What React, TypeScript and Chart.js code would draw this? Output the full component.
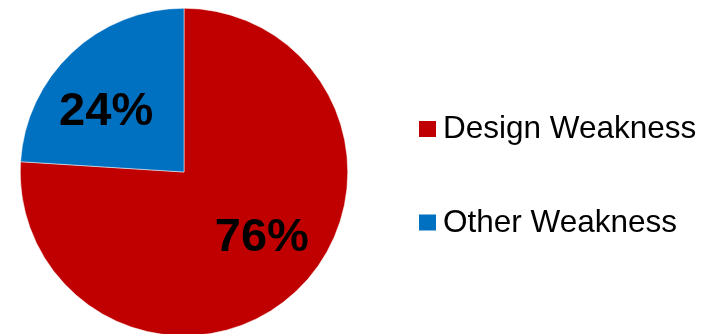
import React, { useEffect, useRef } from "react";
import { Chart, registerables } from "chart.js";

Chart.register(...registerables);

const categories = ["Design Weakness", "Other Weakness"];
const values = [76, 24];
const colors = ["#C00000", "#0070C0"];

const labelPlugin = {
  id: "sliceLabels",
  afterDatasetsDraw(chart: any) {
    const ctx = chart.ctx;
    const meta = chart.getDatasetMeta(0);
    const total = values.reduce((a, b) => a + b, 0);
    ctx.save();
    ctx.fillStyle = "#000";
    ctx.font = "bold 47px 'Liberation Sans', Arial, sans-serif";
    ctx.textAlign = "center";
    ctx.textBaseline = "middle";
    meta.data.forEach((arc: any, i: number) => {
      const p = arc.getProps(["x", "y", "startAngle", "endAngle", "outerRadius"], true);
      const mid = (p.startAngle + p.endAngle) / 2 - (8 * Math.PI) / 180;
      const r = p.outerRadius * 0.61;
      const x = p.x + Math.cos(mid) * r;
      const y = p.y + Math.sin(mid) * r + 3;
      ctx.fillText(Math.round((values[i] / total) * 100) + "%", x, y);
    });
    ctx.restore();
  },
};

const legendPlugin = {
  id: "customLegend",
  afterDraw(chart: any) {
    const ctx = chart.ctx;
    ctx.save();
    ctx.font = "31.5px 'Liberation Sans', Arial, sans-serif";
    ctx.textBaseline = "alphabetic";
    ctx.textAlign = "left";
    categories.forEach((c, i) => {
      const base = 138 + i * 93.5;
      ctx.fillStyle = colors[i];
      ctx.fillRect(419, base - 17, 17, 16);
      ctx.fillStyle = "#000";
      ctx.fillText(c, 443, base);
    });
    ctx.restore();
  },
};

export default function App() {
  const ref = useRef<HTMLCanvasElement>(null);
  useEffect(() => {
    if (!ref.current) return;
    const chart = new Chart(ref.current, {
      type: "pie",
      data: {
        labels: categories,
        datasets: [
          {
            data: values,
            backgroundColor: colors,
            borderColor: "#ffffff",
            borderWidth: 0.5,
          },
        ],
      },
      options: {
        responsive: false,
        animation: false,
        layout: { padding: { left: 20, right: 369, top: 8, bottom: 8 } },
        plugins: { legend: { display: false }, tooltip: { enabled: false } },
      },
      plugins: [labelPlugin, legendPlugin],
    });
    return () => chart.destroy();
  }, []);
  return (
    <div
      style={{
        position: "fixed",
        left: 0,
        top: 0,
        width: 717,
        height: 334,
        overflow: "hidden",
        background: "#fff",
      }}
    >
      <canvas ref={ref} width={717} height={344} style={{ width: 717, height: 344, display: "block" }} />
    </div>
  );
}
